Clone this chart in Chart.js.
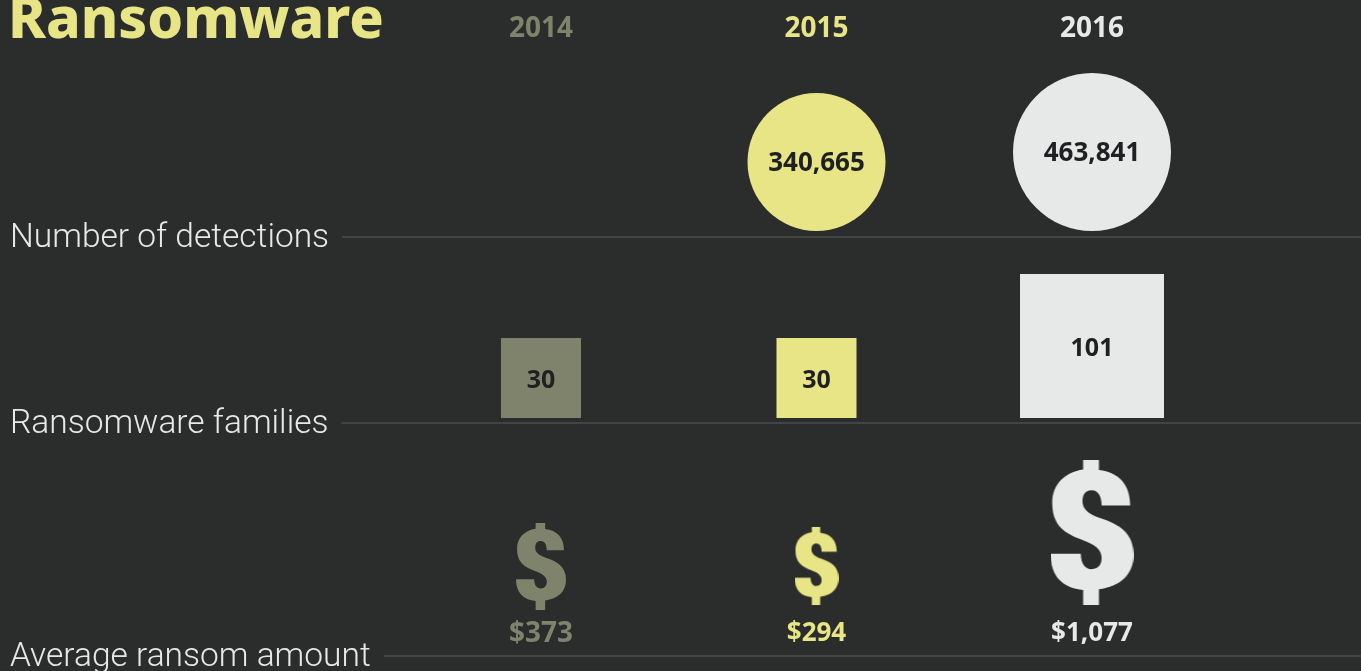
<!DOCTYPE html>
<html>
<head>
<meta charset="utf-8">
<title>Ransomware</title>
<script src="https://cdn.jsdelivr.net/npm/chart.js@4/dist/chart.umd.min.js"></script>
<style>
  html, body { margin: 0; padding: 0; background: #2b2d2c; overflow: hidden; }
  canvas { display: block; }
</style>
</head>
<body>
<canvas id="ransom-chart" width="1361" height="671"></canvas>
<script>
// ─── Data ─────────────────────────────────────────────────────
const title      = 'Ransomware';
const years      = ['2014', '2015', '2016'];
const rowLabels  = ['Number of detections', 'Ransomware families', 'Average ransom amount'];
const detections = [null, 340665, 463841];
const families   = [30, 30, 101];
const ransom     = [373, 294, 1077];

// ─── Look ─────────────────────────────────────────────────────
const RULE = '#434544';
const INK = '#1f2021';
const TEXT = '#e7e9e8';
const TITLE_COLOR = '#e8e586';
const yearColors = ['#7f836b', '#e8e586', '#e7e9e8'];
const FONT = '"Noto Sans"';
const LABEL_FONT = '300 33.5px Roboto';
const AXIS_TOP = 54;
const LABEL_DROP = 2;

// one row per baseline, y scale runs in page units from top to bottom
const rowBase = [237, 423, 656];
const dollarGap = [46, 51, 51];
const ransomFont = [28, 26, 26];

// area-scaled marks, anchored on the first reading of each row
const circleRadius = v => 69 * Math.pow(v / 340665, 0.438);
const squareSide   = v => 80 * Math.pow(v / 30, 0.484);
const dollarHeight = v => 87 * Math.pow(v / 373, 0.482);

// dollar sign outline, traced in a 247 x 433 box
const DOLLAR = new Path2D('M97 0 L144 0 L144 30 C202 36 237 73 237 136 L152 136 ' +
  'C152 108 142 90 122 90 C104 90 95 103 95 123 C95 146 112 161 147 173 ' +
  'C207 193 247 218 247 283 C247 343 207 378 144 386 L144 433 L97 433 L97 388 ' +
  'C37 383 0 348 0 280 L90 280 C90 308 102 326 122 326 C142 326 152 313 152 293 ' +
  'C152 268 132 253 97 240 C37 218 5 193 5 128 C5 73 42 36 97 28 Z');

function dollarSprite(height, color) {
  const c = document.createElement('canvas');
  c.width = Math.round(height * 247 / 433);
  c.height = Math.round(height);
  const g = c.getContext('2d');
  g.scale(c.width / 247, c.height / 433);
  g.fillStyle = color;
  g.fill(DOLLAR);
  return c;
}

// ─── Datasets ─────────────────────────────────────────────────
// 2014 has no detections figure, so that year is left out of the circles
const circleYears  = years.map((_, i) => i).filter(i => detections[i] !== null);
const circlePoints = circleYears.map(i => ({ x: i, y: rowBase[0] - 6 - circleRadius(detections[i]) }));
const squarePoints = families.map((v, i) => ({ x: i, y: rowBase[1] - 5 - squareSide(v) / 2 }));
const dollarPoints = ransom.map((v, i) => ({ x: i, y: rowBase[2] - dollarGap[i] - dollarHeight(v) / 2 }));

const datasets = [
  {
    label: rowLabels[0],
    data: circlePoints,
    pointStyle: 'circle',
    pointRadius: circleYears.map(i => circleRadius(detections[i])),
    pointBackgroundColor: circleYears.map(i => yearColors[i]),
    pointBorderWidth: 0,
    showLine: false,
  },
  {
    label: rowLabels[1],
    data: squarePoints,
    pointStyle: 'rect',
    pointRadius: families.map(v => squareSide(v) / Math.SQRT2),
    pointBackgroundColor: yearColors,
    pointBorderWidth: 0,
    showLine: false,
  },
  {
    label: rowLabels[2],
    data: dollarPoints,
    pointStyle: ransom.map((v, i) => dollarSprite(dollarHeight(v), yearColors[i])),
    pointBorderWidth: 0,
    showLine: false,
  },
];

// ─── Rules, title and value labels ────────────────────────────
const decorPlugin = {
  id: 'decor',
  beforeDatasetsDraw(chart) {
    const { ctx, scales } = chart;
    ctx.save();
    ctx.font = LABEL_FONT;
    ctx.fillStyle = RULE;
    rowBase.forEach((base, i) => {
      const start = 10 + ctx.measureText(rowLabels[i]).width + 13;
      ctx.fillRect(start, scales.y.getPixelForValue(base) - 1, chart.width - start, 2);
    });
    ctx.restore();
  },
  afterDraw(chart) {
    const { ctx } = chart;
    ctx.save();
    ctx.textBaseline = 'alphabetic';
    ctx.textAlign = 'left';
    ctx.font = `800 57px ${FONT}`;
    ctx.fillStyle = TITLE_COLOR;
    ctx.fillText(title, 8, 38);

    ctx.textAlign = 'center';
    ctx.textBaseline = 'middle';
    ctx.fillStyle = INK;
    ctx.font = `700 26px ${FONT}`;
    chart.getDatasetMeta(0).data.forEach((pt, j) => {
      ctx.fillText(detections[circleYears[j]].toLocaleString('en-US'), pt.x, pt.y + 2);
    });
    ctx.font = `700 25px ${FONT}`;
    chart.getDatasetMeta(1).data.forEach((pt, i) => {
      ctx.fillText(String(families[i]), pt.x, pt.y + 2.5);
    });
    chart.getDatasetMeta(2).data.forEach((pt, i) => {
      ctx.font = `700 ${ransomFont[i]}px ${FONT}`;
      ctx.fillStyle = yearColors[i];
      ctx.fillText('$' + ransom[i].toLocaleString('en-US'), pt.x, chart.scales.y.getPixelForValue(rowBase[2] - 22));
    });
    ctx.restore();
  },
};

// ─── Chart ────────────────────────────────────────────────────
new Chart(document.getElementById('ransom-chart'), {
  type: 'scatter',
  data: { datasets },
  plugins: [decorPlugin],
  options: {
    responsive: false,
    animation: false,
    events: [],
    clip: false,
    layout: { padding: 0, autoPadding: false },
    plugins: { legend: { display: false }, tooltip: { enabled: false } },
    scales: {
      x: {
        type: 'linear',
        position: 'top',
        min: -1.9637,
        max: 2.9764,
        grid: { display: false },
        border: { display: false },
        afterBuildTicks: axis => { axis.ticks = years.map((_, i) => ({ value: i })); },
        afterFit: axis => { axis.height = AXIS_TOP; },
        ticks: {
          autoSkip: false,
          maxRotation: 0,
          padding: 0,
          callback: v => years[v],
          color: ctx => yearColors[ctx.index],
          font: { family: 'Noto Sans', size: 28, weight: '700' },
        },
      },
      y: {
        type: 'linear',
        reverse: true,
        min: AXIS_TOP,
        max: 671,
        grid: { display: false },
        border: { display: false },
        afterBuildTicks: axis => { axis.ticks = rowBase.map(v => ({ value: v + LABEL_DROP })); },
        // last label hangs near the page edge, keep the scale running to it anyway
        afterFit: axis => { axis.width = 0; axis.paddingTop = 0; axis.paddingBottom = 0; },
        ticks: {
          mirror: true,
          autoSkip: false,
          padding: 10,
          callback: (v, i) => rowLabels[i],
          color: TEXT,
          font: { family: 'Roboto', size: 33.5, weight: '300' },
        },
      },
    },
  },
});
</script>
</body>
</html>
